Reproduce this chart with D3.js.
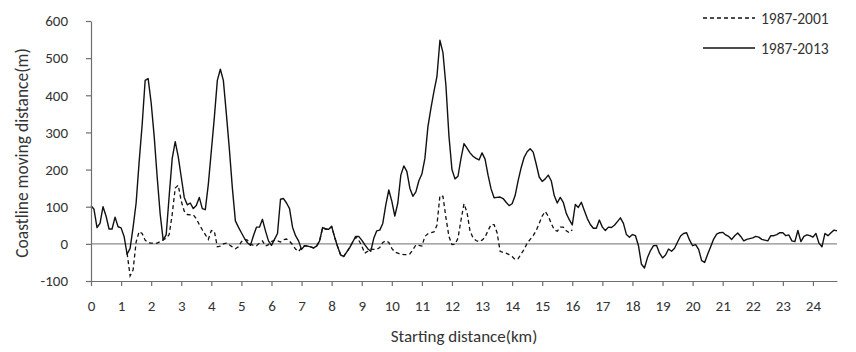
<!DOCTYPE html>
<html>
<head>
<meta charset="utf-8">
<script src="https://cdn.jsdelivr.net/npm/d3@7/dist/d3.min.js"></script>
<style>
  html, body { margin: 0; padding: 0; background: #fff; }
  svg { display: block; font-family: Carlito, Calibri, Lato, sans-serif; }
</style>
</head>
<body>
<div id="chart"></div>
<script>
// 海岸线移动距离 — 两条折线（虚线 1987-2001，实线 1987-2013）

// 起点距离 0 ~ 24.8 km，步长 0.1 km
const distances = d3.range(0, 249).map(i => +(i / 10).toFixed(1));

// 1987-2013（实线），每 0.1 km 一个值
const series2013 = [
  103, 93, 44, 55, 100, 75, 40, 40, 72, 46,
  43, 20, -28, -12, 45, 110, 220, 320, 440, 445,
  380, 290, 180, 80, 10, 25, 130, 230, 275, 235,
  180, 125, 105, 110, 95, 103, 125, 95, 92, 160,
  250, 340, 440, 470, 440, 350, 255, 150, 62, 45,
  30, 15, 3, -4, 22, 45, 45, 66, 35, 8,
  -4, 12, 28, 120, 122, 110, 95, 45, 22, 8,
  -15, -5, -6, -8, -11, -6, 8, 44, 40, 39,
  47, 18, -8, -30, -34, -22, -10, 5, 20, 20,
  10, -2, -13, -20, 15, 35, 37, 55, 105, 145,
  115, 75, 110, 185, 210, 195, 150, 128, 140, 170,
  188, 230, 315, 365, 410, 450, 548, 515, 425, 290,
  200, 175, 182, 230, 270, 258, 245, 236, 230, 226,
  245, 228, 185, 148, 124, 125, 126, 122, 112, 103,
  108, 130, 170, 205, 233, 248, 256, 247, 215, 180,
  168, 175, 185, 170, 130, 110, 125, 112, 82, 65,
  51, 106, 98, 112, 90, 68, 52, 42, 42, 64,
  45, 36, 45, 44, 50, 60, 70, 55, 25, 18,
  25, 22, -5, -55, -65, -37, -18, -5, -4, -25,
  -38, -30, -14, -20, -12, 5, 21, 28, 30, 10,
  -5, -2, -15, -45, -50, -28, -8, 13, 26, 30,
  31, 24, 20, 12, 22, 29, 20, 8, 12, 14,
  16, 20, 18, 12, 10, 8, 22, 22, 25, 30,
  30, 22, 24, 8, 6, 36, 6, 20, 24, 22,
  18, 28, 2, -8, 28, 22, 30, 37, 35
];

// 1987-2001（虚线），从 1.2 km 到 16.0 km
const start2001 = 1.2;
const series2001 = [
  -25, -86, -70, 5, 33, 28, 10, 3,
  2, 2, 2, 6, 11, 15, 25, 80, 150, 158,
  115, 88, 79, 78, 78, 68, 52, 38, 25, 12,
  36, 34, -8, -6, 0, 2, -3, -8, -13, -8,
  6, 12, 10, -1, -4, -5, 2, 8, -6, -2,
  6, 10, 8, 5, 11, 13, 7, -2, -14, -21,
  -10, -5, -6, -8, -11, -6, 8, 44, 40, 39,
  47, 18, -8, -30, -34, -22, -10, 5, 18, 10,
  -5, -25, -20, -14, -15, -15, -10, 4, 8, 4,
  -12, -22, -25, -28, -29, -29, -27, -16, -3, -4,
  -6, 20, 27, 30, 32, 50, 130, 128, 70, 20,
  -2, -1, 15, 64, 108, 85, 35, 16, 9, 6,
  10, 18, 36, 52, 52, 30, -20, -23, -25, -29,
  -34, -42, -40, -27, -15, 2, 12, 22, 36, 55,
  75, 87, 75, 55, 38, 34, 45, 45, 35, 30,
  38
];

const xTicks = d3.range(0, 25);
const yTicks = [-100, 0, 100, 200, 300, 400, 500, 600];
const legendLabels = ['1987-2001', '1987-2013'];

const width = 856, height = 352;
const margin = { top: 21, right: 19, bottom: 71, left: 91 };
const innerWidth = width - margin.left - margin.right;
const innerHeight = height - margin.top - margin.bottom;

const fontStack = 'Carlito, Calibri, Lato, sans-serif';

const svg = d3.select('#chart').append('svg')
  .attr('width', width)
  .attr('height', height)
  .attr('viewBox', `0 0 ${width} ${height}`);

const g = svg.append('g')
  .attr('transform', `translate(${margin.left},${margin.top})`);

const x = d3.scaleLinear().domain([0, 24.8]).range([0, innerWidth]);
const y = d3.scaleLinear().domain([-100, 600]).range([innerHeight, 0]);

const textColor = '#333';
const axisColor = '#6f6f6f';

// 零线
g.append('line')
  .attr('x1', 0).attr('x2', innerWidth)
  .attr('y1', y(0)).attr('y2', y(0))
  .attr('stroke', '#8c8c8c')
  .attr('stroke-width', 1.2);

// 折线数据
const data2013 = distances.map((d, i) => ({ x: d, y: series2013[i] }));
const data2001 = series2001.map((v, i) => ({ x: start2001 + i / 10, y: v }));

const line = d3.line().x(d => x(d.x)).y(d => y(d.y));

g.append('path')
  .datum(data2001)
  .attr('fill', 'none')
  .attr('stroke', '#111')
  .attr('stroke-width', 1.3)
  .attr('stroke-dasharray', '4,3')
  .attr('d', line);

g.append('path')
  .datum(data2013)
  .attr('fill', 'none')
  .attr('stroke', '#111')
  .attr('stroke-width', 1.4)
  .attr('stroke-linejoin', 'round')
  .attr('d', line);

// 刻度文字用普通连字符
const plainFormat = d => String(d);

// X 轴（位于 -100）
const xAxis = g.append('g')
  .attr('transform', `translate(0,${innerHeight})`)
  .call(d3.axisBottom(x).tickValues(xTicks).tickFormat(plainFormat)
    .tickSize(5).tickSizeOuter(0).tickPadding(14));

// Y 轴
const yAxis = g.append('g')
  .call(d3.axisLeft(y).tickValues(yTicks).tickFormat(plainFormat)
    .tickSize(5).tickSizeOuter(0).tickPadding(18));

[xAxis, yAxis].forEach(ax => {
  ax.attr('font-size', 15).attr('font-family', fontStack);
  ax.select('.domain').attr('stroke', axisColor).attr('stroke-width', 1.2);
  ax.selectAll('.tick line').attr('stroke', axisColor).attr('stroke-width', 1.2);
  ax.selectAll('.tick text').attr('fill', textColor);
});

// 轴标题
svg.append('text')
  .attr('x', 464)
  .attr('y', 342)
  .attr('text-anchor', 'middle')
  .attr('fill', textColor)
  .attr('font-size', 17)
  .text('Starting distance(km)');

svg.append('text')
  .attr('transform', 'translate(28,153) rotate(-90)')
  .attr('text-anchor', 'middle')
  .attr('fill', textColor)
  .attr('font-size', 17.5)
  .text('Coastline moving distance(m)');

// 图例
const legend = svg.append('g').attr('transform', 'translate(703,18)');
legendLabels.forEach((label, i) => {
  const row = legend.append('g').attr('transform', `translate(0,${i * 30})`);
  row.append('line')
    .attr('x1', 0).attr('x2', 52)
    .attr('y1', 0).attr('y2', 0)
    .attr('stroke', '#111')
    .attr('stroke-width', i === 0 ? 1.3 : 1.4)
    .attr('stroke-dasharray', i === 0 ? '4,3' : null);
  row.append('text')
    .attr('x', 58)
    .attr('y', 5.5)
    .attr('fill', textColor)
    .attr('font-size', 15.5)
    .text(label);
});
</script>
</body>
</html>
